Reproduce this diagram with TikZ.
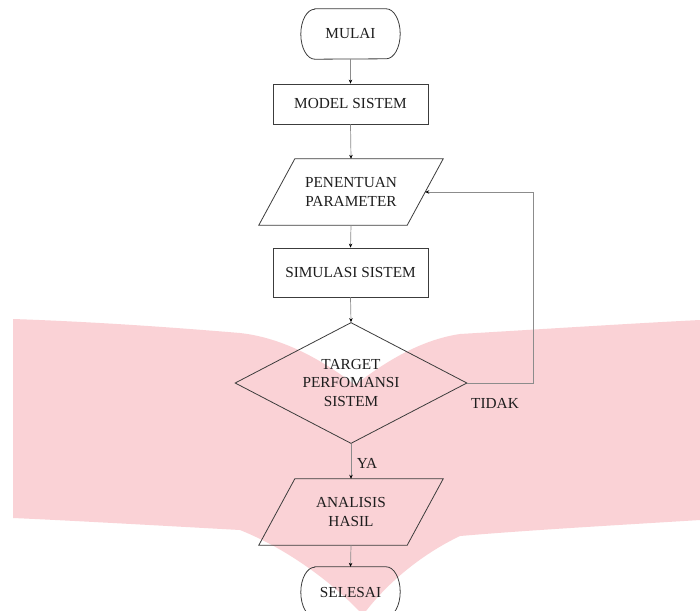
\documentclass[tikz,border=0pt]{standalone}
\usepackage{fontspec}
\setmainfont{Liberation Serif}
\usetikzlibrary{shapes.geometric,arrows.meta,calc}
\definecolor{wmpink}{RGB}{250,210,214}
\definecolor{boxcol}{RGB}{60,60,60}
\definecolor{conncol}{RGB}{140,140,140}
\definecolor{txtcol}{RGB}{30,30,30}
\tikzset{
  boxline/.style={draw=boxcol, line width=0.8pt},
  txt/.style={text=txtcol, font=\fontsize{15.3}{18.5}\selectfont, align=center, inner sep=0pt},
  rectbox/.style={txt, boxline, rectangle, minimum width=155pt},
  shapebox/.style={txt, draw=none, rectangle},
  decision/.style={txt, boxline, diamond, aspect=1.92, minimum width=232pt, minimum height=121pt},
  conn/.style={draw=conncol, line width=0.7pt, -{Stealth[length=4pt,width=3.5pt,color=black]}},
  lbl/.style={text=txtcol, font=\fontsize{15.3}{18.5}\selectfont, inner sep=0pt}
}
\newcommand{\drawpara}[1]{\draw[boxline] ([xshift=18pt]#1.north west) -- ([xshift=18pt]#1.north east) -- ([xshift=-18pt]#1.south east) -- ([xshift=-18pt]#1.south west) -- cycle;}
\newcommand{\drawterm}[1]{\draw[boxline] ([xshift=14pt]#1.north west) -- ([xshift=-14pt]#1.north east) arc[start angle=90,end angle=-90,x radius=14pt,y radius=25pt] -- ([xshift=14pt]#1.south west) arc[start angle=270,end angle=90,x radius=14pt,y radius=25pt] -- cycle;}
\begin{document}
\begin{tikzpicture}[x=1pt,y=1pt]
\useasboundingbox (0,0) rectangle (700,-610);
\fill[white] (0,0) rectangle (700,-610);
% watermark
\fill[wmpink] (13,-319) .. controls (100,-322) and (180,-328) .. (240,-333)
  .. controls (285,-338) and (325,-362) .. (355,-385)
  .. controls (385,-362) and (420,-340) .. (460,-334)
  .. controls (560,-328) and (640,-323) .. (700,-320)
  -- (700,-520)
  .. controls (620,-525) and (530,-530) .. (460,-536)
  .. controls (420,-555) and (385,-585) .. (363,-615)
  .. controls (335,-585) and (290,-550) .. (240,-530)
  .. controls (150,-525) and (60,-520) .. (13,-518) -- cycle;
% nodes
\node[shapebox, minimum width=99pt, minimum height=50pt] (mulai) at (350.5,-34) {MULAI};
\drawterm{mulai}
\node[rectbox, minimum height=40pt] (model) at (350.5,-104) {MODEL SISTEM};
\node[shapebox, minimum width=148pt, minimum height=66pt] (param) at (351,-192) {PENENTUAN\\PARAMETER};
\drawpara{param}
\node[rectbox, minimum height=49pt] (sim) at (350.5,-272.5) {SIMULASI SISTEM};
\node[decision] (dia) at (351,-383) {TARGET\\PERFOMANSI\\SISTEM};
\node[shapebox, minimum width=148pt, minimum height=66pt] (anal) at (351,-512) {ANALISIS\\HASIL};
\drawpara{anal}
\node[shapebox, minimum width=99pt, minimum height=50pt] (sel) at (350.5,-592) {SELESAI};
\drawterm{sel}
% connectors
\draw[conn] (mulai.south) -- (model.north);
\draw[conn] (model.south) -- (param.north);
\draw[conn] (param.south) -- (sim.north);
\draw[conn] (sim.south) -- (dia.north);
\draw[conn] (dia.south) -- (anal.north);
\draw[conn] (anal.south) -- (sel.north);
\coordinate (fb) at (533,-383);
\draw[conn] (dia.east) -- (fb) |- (param.east);
% labels
\node[lbl] (tidak) at (495,-403) {TIDAK};
\node[lbl] (ya) at (367,-463) {YA};
\end{tikzpicture}
\end{document}
